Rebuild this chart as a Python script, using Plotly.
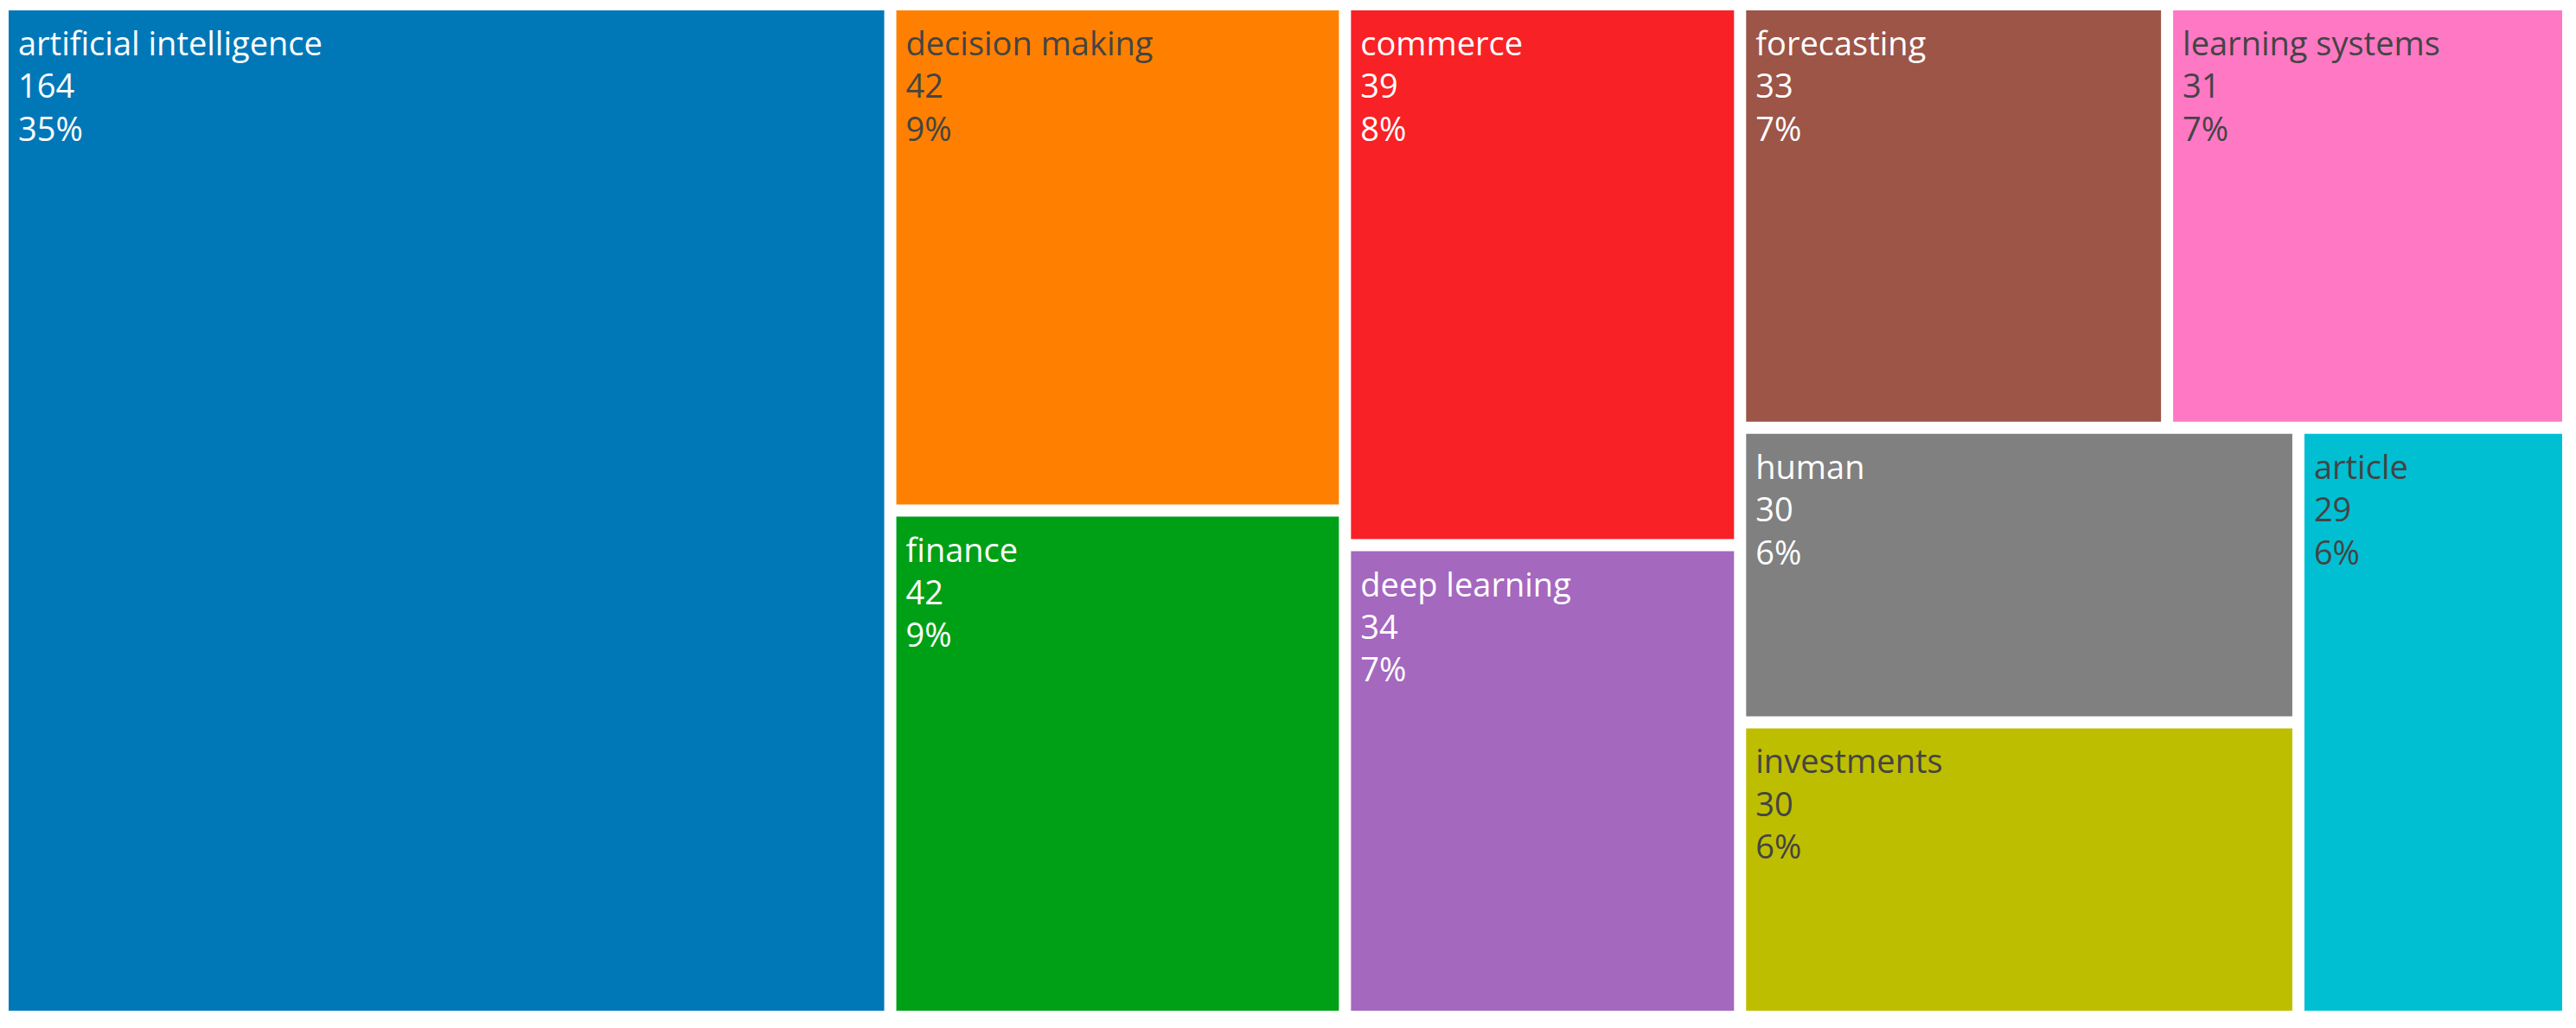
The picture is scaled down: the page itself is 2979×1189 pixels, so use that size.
import plotly.graph_objects as go

labels = ["artificial intelligence", "decision making", "finance", "commerce",
          "deep learning", "forecasting", "learning systems", "human",
          "investments", "article"]
values = [164, 42, 42, 39, 34, 33, 31, 30, 30, 29]
parents = [""] * len(labels)
colors = ["#0078B8", "#FF8000", "#00A016", "#F82125", "#A468BF",
          "#9C5547", "#FF78C4", "#808080", "#BEBE00", "#00BFD3"]
text_colors = ["white", "#444", "white", "white", "white",
               "white", "#444", "white", "#444", "#444"]

sp = "<span style='font-size:46px;letter-spacing:-4px'>\u00a0</span>"
fig = go.Figure(go.Treemap(
    labels=labels,
    parents=parents,
    values=values,
    sort=True,
    marker=dict(colors=colors, line=dict(color="white", width=0),
                pad=dict(t=0, l=0, r=0, b=0)),
    tiling=dict(pad=14),
    texttemplate=f"{sp}%{{label}}<br>{sp}%{{value}}<br>{sp}%{{percentRoot:.0%}}",
    textposition="top left",
    textfont=dict(family="Open Sans", size=38, color=text_colors),
    pathbar=dict(visible=False),
    hoverinfo="label+value+percent root",
))

fig.update_layout(
    width=2963,
    height=1173,
    margin=dict(l=2, r=8, t=4, b=12),
    paper_bgcolor="white",
    plot_bgcolor="white",
)

fig.write_html("out.html")
